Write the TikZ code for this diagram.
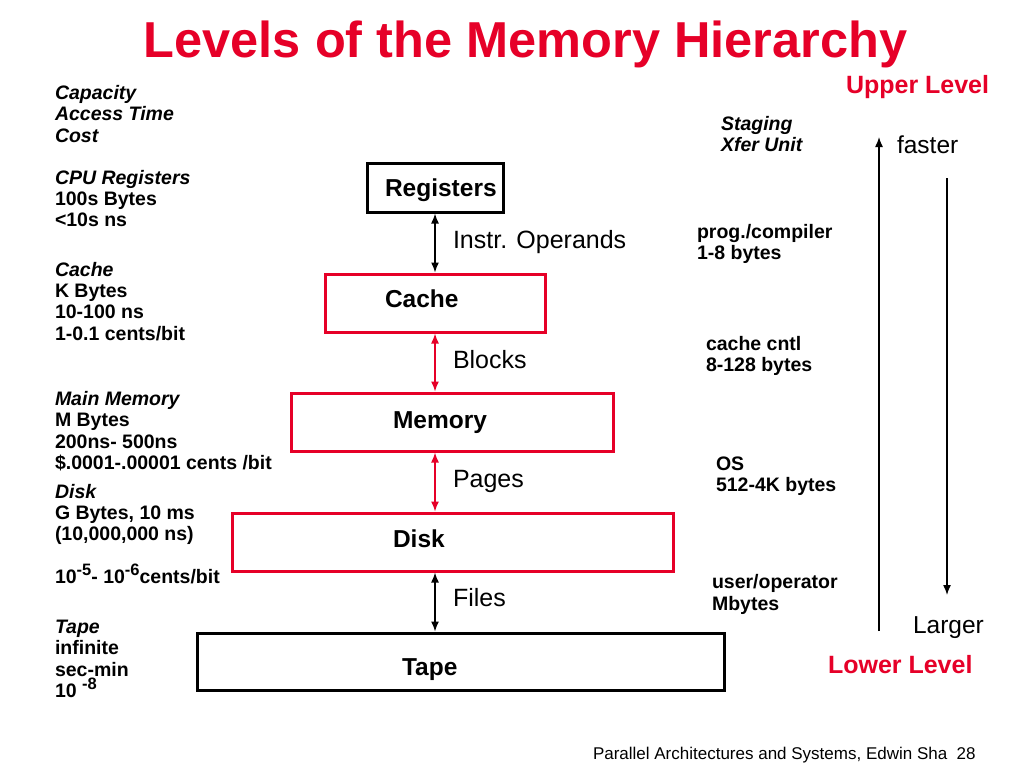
\documentclass[tikz,border=0pt]{standalone}
\usepackage{fontspec}
\setmainfont{Liberation Sans}
\usetikzlibrary{arrows.meta}
\definecolor{pptred}{RGB}{230,0,40}
\newcommand{\supx}[1]{\raisebox{8pt}{\fontsize{16.5}{16.5}\selectfont #1}}
\begin{document}
\begin{tikzpicture}[x=1pt,y=-1pt,
  every node/.style={inner sep=0pt, outer sep=0pt},
  lt/.style={anchor=base west, font=\fontsize{19.5}{21}\selectfont\bfseries},
  lti/.style={anchor=base west, font=\fontsize{19.5}{21}\selectfont\bfseries\itshape},
  bxlabel/.style={anchor=base west, font=\fontsize{24.5}{26}\selectfont\bfseries},
  edgelabel/.style={anchor=base west, font=\fontsize{25}{26}\selectfont},
  levellabel/.style={anchor=base west, font=\fontsize{25}{26}\selectfont\bfseries, text=pptred},
  bx/.style={draw=black, line width=3pt, rectangle, fill=none},
  rbx/.style={bx, draw=pptred},
  dbl/.style={{Latex[length=10pt,width=8pt]}-{Latex[length=10pt,width=8pt]}, line width=1.4pt, shorten <=1.5pt, shorten >=1.5pt},
  arr/.style={-{Latex[length=10pt,width=8pt]}, line width=1.4pt}
]
\useasboundingbox[fill=white] (0,0) rectangle (1024,768);

% title
\node[anchor=base, font=\fontsize{50.5}{52}\selectfont\bfseries, text=pptred] (title) at (525.5,57) {Levels of the Memory Hierarchy};

% boxes
\node[bx, minimum width=136pt, minimum height=49pt] (reg) at (435,187.5) {};
\node[rbx, minimum width=220pt, minimum height=58pt] (cache) at (435,303) {};
\node[rbx, minimum width=322pt, minimum height=58pt] (mem) at (452,422) {};
\node[rbx, minimum width=441pt, minimum height=58pt] (disk) at (452.5,542) {};
\node[bx, minimum width=527pt, minimum height=57pt] (tape) at (460.5,661.5) {};

\node[bxlabel] (regL) at (385,196) {Registers};
\node[bxlabel] (cacheL) at (385,307) {Cache};
\node[bxlabel] (memL) at (393,428) {Memory};
\node[bxlabel] (diskL) at (393,547) {Disk};
\node[bxlabel] (tapeL) at (402,675) {Tape};

% connectors between levels
\draw[dbl] (reg.south) -- (cache.north);
\draw[dbl, draw=pptred, fill=pptred] (cache.south) -- (cache.south |- mem.north);
\draw[dbl, draw=pptred, fill=pptred] (mem.south -| reg.south) -- (disk.north -| reg.south);
\draw[dbl] (disk.south -| reg.south) -- (tape.north -| reg.south);

\node[edgelabel] (e1) at (453,248) {Instr. Operands};
\node[edgelabel] (e2) at (453,368) {Blocks};
\node[edgelabel] (e3) at (453,487) {Pages};
\node[edgelabel] (e4) at (453,606) {Files};

% left column
\node[lti] (l1) at (55,99) {Capacity};
\node[lti] (l2) at (55,120.5) {Access Time};
\node[lti] (l3) at (55,142) {Cost};
\node[lti] (l4) at (55,184) {CPU Registers};
\node[lt] (l5) at (55,205) {100s Bytes};
\node[lt] (l6) at (55,226) {<10s ns};
\node[lti] (l7) at (55,276) {Cache};
\node[lt] (l8) at (55,297) {K Bytes};
\node[lt] (l9) at (55,318.5) {10-100 ns};
\node[lt] (l10) at (55,340) {1-0.1 cents/bit};
\node[lti] (l11) at (55,405) {Main Memory};
\node[lt] (l12) at (55,426.5) {M Bytes};
\node[lt] (l13) at (55,448) {200ns- 500ns};
\node[lt] (l14) at (55,469.5) {\$.0001-.00001 cents /bit};
\node[lti] (l15) at (55,498) {Disk};
\node[lt] (l16) at (55,519) {G Bytes, 10 ms};
\node[lt] (l17) at (55,540) {(10,000,000 ns)};
\node[lt] (l18) at (55,583) {10\supx{-5}- 10\supx{-6}cents/bit};
\node[lti] (l19) at (55,633) {Tape};
\node[lt] (l20) at (55,654.5) {infinite};
\node[lt] (l21) at (55,676) {sec-min};
\node[lt] (l22) at (55,697) {10 \raisebox{8pt}{\fontsize{16.5}{16.5}\selectfont -8}};

% right column
\node[lti] (r1) at (721,130) {Staging};
\node[lti] (r2) at (721,151) {Xfer Unit};
\node[lt] (r3) at (697,238.5) {prog./compiler};
\node[lt] (r4) at (697,259.5) {1-8 bytes};
\node[lt] (r5) at (706,350) {cache cntl};
\node[lt] (r6) at (706,371) {8-128 bytes};
\node[lt] (r7) at (716,470) {OS};
\node[lt] (r8) at (716,491) {512-4K bytes};
\node[lt] (r9) at (712,588) {user/operator};
\node[lt] (r10) at (712,610) {Mbytes};

% level arrows
\node[levellabel] (upper) at (846,93) {Upper Level};
\node[levellabel] (lower) at (828,673) {Lower Level};
\node[edgelabel, font=\fontsize{24.5}{26}\selectfont] (faster) at (897,153) {faster};
\node[edgelabel, font=\fontsize{24.5}{26}\selectfont] (larger) at (913,633) {Larger};
\coordinate (upS) at (879,631);
\coordinate (upE) at (879,137);
\coordinate (dnS) at (947,178);
\coordinate (dnE) at (947,595);
\draw[arr] (upS) -- (upE);
\draw[arr] (dnS) -- (dnE);

% footer
\node[anchor=base west, font=\fontsize{17}{18}\selectfont] (footer) at (593,759) {Parallel Architectures and Systems, Edwin Sha\ \ 28};
\end{tikzpicture}
\end{document}
